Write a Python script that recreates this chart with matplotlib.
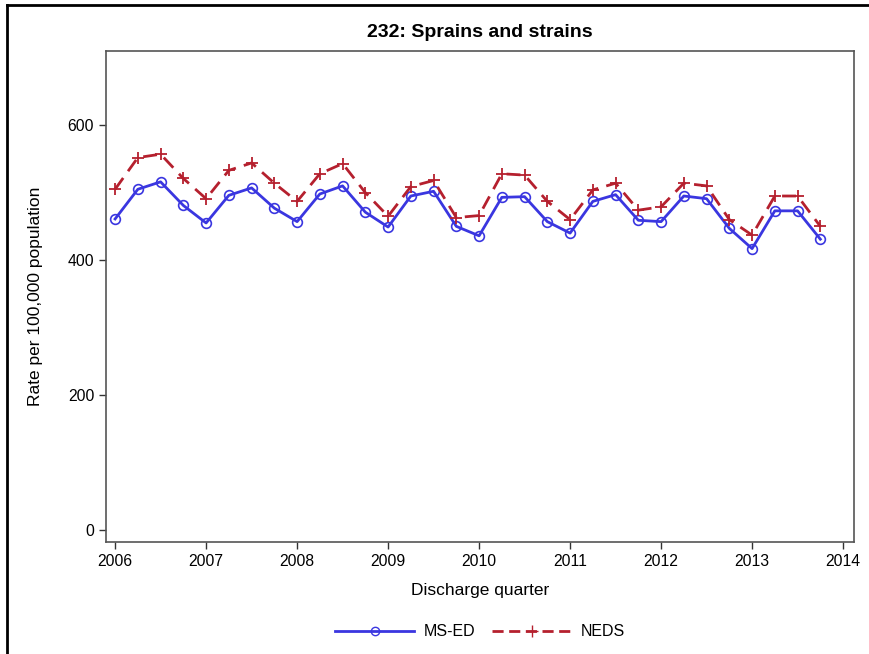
import matplotlib
matplotlib.use("Agg")
import matplotlib.pyplot as plt
from matplotlib.lines import Line2D

plt.rcParams['font.family'] = ['Liberation Sans', 'DejaVu Sans']

start_year = 2006
quarters = [start_year + i * 0.25 for i in range(32)]

ms_ed = [461, 505, 516, 481, 455, 496, 507, 477, 457, 498, 510, 471, 449, 495, 502, 450,
         436, 493, 494, 457, 440, 487, 497, 459, 457, 495, 491, 447, 417, 473, 473, 431]
neds = [505, 552, 557, 521, 491, 533, 544, 514, 487, 528, 543, 500, 465, 509, 518, 463,
        466, 528, 526, 487, 460, 504, 514, 474, 479, 514, 510, 460, 437, 495, 495, 450]

xticks = [2006, 2007, 2008, 2009, 2010, 2011, 2012, 2013, 2014]
yticks = [0, 200, 400, 600]

blue = '#3a36e0'
red = '#b5202e'

fig = plt.figure(figsize=(8.7, 6.54), dpi=100)
ax = fig.add_axes([106/870, 1-542/654, (854-106)/870, (542-51)/654])

ax.plot(quarters, ms_ed, color=blue, lw=2, marker='o', ms=7, mfc='none', mec=blue, mew=1.2, label='MS-ED')
ax.plot(quarters, neds, color=red, lw=2, ls=(0, (5, 3)), marker='+', ms=9, mec=red, mew=1.3, label='NEDS')

ax.set_xlim(2005.9, 2014.12)
ax.set_ylim(-18, 710)
ax.set_xticks(xticks)
ax.set_xticklabels([str(v) for v in xticks])
ax.set_yticks(yticks)
ax.tick_params(direction='out', length=5, width=1, labelsize=11.3, colors='#333333', labelcolor='black')
for s in ax.spines.values():
    s.set_color('#555555')
    s.set_linewidth(1.2)

ax.set_title('232: Sprains and strains', fontsize=14, fontweight='bold', pad=10)
ax.set_xlabel('Discharge quarter', fontsize=12.5, labelpad=10)
ax.set_ylabel('Rate per 100,000 population', fontsize=12.5, labelpad=18)

h1 = Line2D([], [], color=blue, lw=2, marker='o', ms=6, mfc='none', mec=blue)
h2 = Line2D([], [], color=red, lw=2, ls=(0, (4, 2)), marker='+', ms=9, mec=red)
fig.legend([h1, h2], ['MS-ED', 'NEDS'], loc='center', bbox_to_anchor=(480/870, 1-632/654),
           ncol=2, frameon=False, fontsize=11.5, handlelength=5.0, columnspacing=1.0, handletextpad=0.6)

# outer frame
fig.add_artist(Line2D([7/870, 1.0], [1-5/654, 1-5/654], transform=fig.transFigure, color='black', lw=2))
fig.add_artist(Line2D([7/870, 7/870], [0, 1-5/654], transform=fig.transFigure, color='black', lw=2))

fig.savefig('out.png', dpi=100)
